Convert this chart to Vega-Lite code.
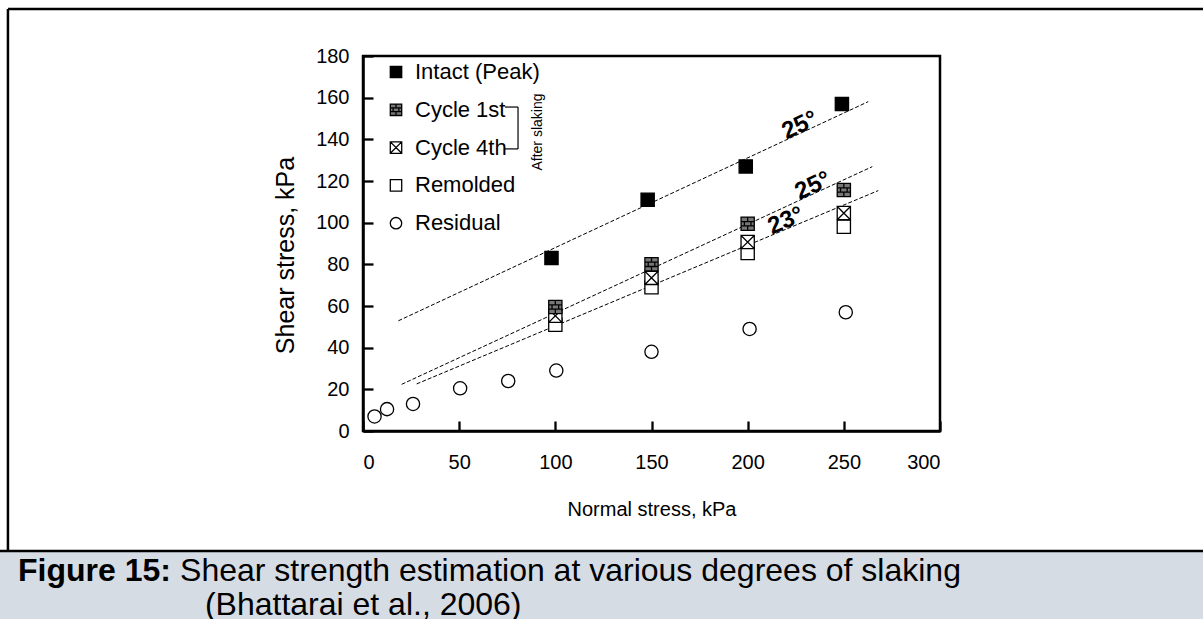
{
  "$schema": "https://vega.github.io/schema/vega-lite/v6.json",
  "width": 577,
  "height": 375,
  "autosize": {"type": "none"},
  "padding": {"left": 363, "top": 56, "right": 263, "bottom": 188},
  "background": "white",
  "config": {
    "font": "Liberation Sans",
    "view": {"stroke": "black", "strokeWidth": 2.5},
    "axis": {
      "grid": false,
      "domainColor": "black",
      "domainWidth": 2.5,
      "tickColor": "black",
      "tickWidth": 2.3,
      "tickSize": -10,
      "labelColor": "black",
      "labelFontSize": 20,
      "labelFont": "Liberation Sans",
      "titleColor": "black",
      "titleFont": "Liberation Sans",
      "titleFontWeight": "normal"
    },
    "legend": {
      "labelFontSize": 22,
      "labelFont": "Liberation Sans",
      "labelColor": "black",
      "symbolSize": 130,
      "symbolStrokeWidth": 1.3,
      "rowPadding": 15.8,
      "labelOffset": 8,
      "padding": 0,
      "symbolOpacity": 1
    }
  },
  "datasets": {
    "pts": [
      {"series": "Intact (Peak)", "x": 98, "y": 83},
      {"series": "Intact (Peak)", "x": 148, "y": 111},
      {"series": "Intact (Peak)", "x": 199, "y": 127},
      {"series": "Intact (Peak)", "x": 249, "y": 157},
      {"series": "Remolded", "x": 100, "y": 51},
      {"series": "Remolded", "x": 150, "y": 69},
      {"series": "Remolded", "x": 200, "y": 85.4},
      {"series": "Remolded", "x": 250, "y": 98},
      {"series": "Cycle 4th", "x": 100, "y": 55.3},
      {"series": "Cycle 4th", "x": 150, "y": 73.5},
      {"series": "Cycle 4th", "x": 200, "y": 90.7},
      {"series": "Cycle 4th", "x": 250, "y": 104.6},
      {"series": "Cycle 1st", "x": 100, "y": 59.5},
      {"series": "Cycle 1st", "x": 150, "y": 80},
      {"series": "Cycle 1st", "x": 200, "y": 99.5},
      {"series": "Cycle 1st", "x": 250, "y": 115.7},
      {"series": "Residual", "x": 6, "y": 7},
      {"series": "Residual", "x": 12.5, "y": 10.5},
      {"series": "Residual", "x": 26, "y": 13},
      {"series": "Residual", "x": 50.5, "y": 20.5},
      {"series": "Residual", "x": 75.5, "y": 24},
      {"series": "Residual", "x": 100.5, "y": 29},
      {"series": "Residual", "x": 150, "y": 38},
      {"series": "Residual", "x": 201, "y": 49},
      {"series": "Residual", "x": 251, "y": 57}
    ],
    "fits": [
      {"fit": "peak", "x": 18.4, "y": 52.9},
      {"fit": "peak", "x": 262.7, "y": 158.1},
      {"fit": "cycle", "x": 20.1, "y": 22.4},
      {"fit": "cycle", "x": 264.8, "y": 126.9},
      {"fit": "remolded", "x": 27.9, "y": 22.6},
      {"fit": "remolded", "x": 267.9, "y": 115.4}
    ],
    "angles": [
      {"label": "25°", "deg": 25, "x": 227.2, "y": 146.6},
      {"label": "25°", "deg": 25, "x": 234, "y": 117.6},
      {"label": "23°", "deg": 23, "x": 219.9, "y": 100.8}
    ],
    "frame": [
      {"x": -184.6, "x2": 480, "y": 202.6, "y2": 202.6},
      {"x": -184.6, "x2": -184.6, "y": 202.6, "y2": -57.6},
      {"x": -200, "x2": 480, "y": -57.6, "y2": -57.6}
    ],
    "captionbox": [
      {"x": -200, "x2": 480, "y": -57.6, "y2": -100}
    ],
    "bracket": [
      {"x": 73.8, "x2": 80.6, "y": 155.5, "y2": 155.5},
      {"x": 80.6, "x2": 80.6, "y": 155.5, "y2": 135.4},
      {"x": 73.8, "x2": 80.6, "y": 135.4, "y2": 135.4}
    ]
  },
  "encoding": {
    "x": {
      "field": "x",
      "type": "quantitative",
      "scale": {"domain": [0, 300], "nice": false, "zero": false},
      "axis": {
        "values": [0, 50, 100, 150, 200, 250, 300],
        "title": "Normal stress, kPa",
        "titleFontSize": 20,
        "labelPadding": 31,
        "titleX": 288.5,
        "titleY": 78,
        "titleBaseline": "middle",
        "titleAlign": "center"
      }
    },
    "y": {
      "field": "y",
      "type": "quantitative",
      "scale": {"domain": [0, 180], "nice": false, "zero": false},
      "axis": {
        "values": [0, 20, 40, 60, 80, 100, 120, 140, 160, 180],
        "title": "Shear stress, kPa",
        "titleFontSize": 25,
        "labelPadding": 24,
        "titleX": -78,
        "titleY": 199,
        "titleBaseline": "middle",
        "titleAlign": "center",
        "titleAngle": -90
      }
    }
  },
  "layer": [
    {
      "data": {"name": "captionbox"},
      "mark": {"type": "rect", "fill": "#d6dce4", "clip": false},
      "encoding": {"x2": {"field": "x2"}, "y2": {"field": "y2"}}
    },
    {
      "data": {"name": "frame"},
      "mark": {"type": "rule", "stroke": "black", "strokeWidth": 2.5, "clip": false},
      "encoding": {"x2": {"field": "x2"}, "y2": {"field": "y2"}}
    },
    {
      "data": {"values": [{"text": "Figure 15:", "x": -179.4, "y": -72.2}]},
      "mark": {"type": "text", "align": "left", "baseline": "alphabetic", "fontSize": 32, "fontWeight": "bold", "font": "Liberation Sans", "color": "black", "clip": false},
      "encoding": {"text": {"field": "text"}}
    },
    {
      "data": {"values": [
        {"text": "Shear strength estimation at various degrees of slaking", "x": -95.1, "y": -72.2},
        {"text": "(Bhattarai et al., 2006)", "x": -82.2, "y": -88.1}
      ]},
      "mark": {"type": "text", "align": "left", "baseline": "alphabetic", "fontSize": 32, "font": "Liberation Sans", "color": "black", "clip": false},
      "encoding": {"text": {"field": "text"}}
    },
    {
      "data": {"name": "fits"},
      "mark": {"type": "line", "stroke": "black", "strokeWidth": 1, "strokeDash": [4, 2]},
      "encoding": {"detail": {"field": "fit"}}
    },
    {
      "data": {"name": "pts"},
      "mark": {"type": "point", "filled": true, "strokeWidth": 1.3, "opacity": 1, "size": 175},
      "encoding": {
        "fill": {
          "field": "series",
          "type": "nominal",
          "scale": {
            "domain": ["Intact (Peak)", "Cycle 1st", "Cycle 4th", "Remolded", "Residual"],
            "range": ["black", "#777777", "white", "white", "white"]
          },
          "legend": {"orient": "none", "legendX": 22, "legendY": 5, "title": null}
        },
        "stroke": {
          "field": "series",
          "type": "nominal",
          "scale": {
            "domain": ["Intact (Peak)", "Cycle 1st", "Cycle 4th", "Remolded", "Residual"],
            "range": ["black", "black", "black", "black", "black"]
          },
          "legend": {"orient": "none", "legendX": 22, "legendY": 5, "title": null}
        },
        "shape": {
          "field": "series",
          "type": "nominal",
          "scale": {
            "domain": ["Intact (Peak)", "Cycle 1st", "Cycle 4th", "Remolded", "Residual"],
            "range": [
              "square",
              "M-1,-1H1V1H-1Z M-1,-0.33H1 M-1,0.33H1 M0,-1V-0.33 M-0.5,-0.33V0.33 M0.5,-0.33V0.33 M0,0.33V1",
              "M-1,-1H1V1H-1Z M-1,-1L1,1 M1,-1L-1,1",
              "square",
              "circle"
            ]
          },
          "legend": {"orient": "none", "legendX": 22, "legendY": 5, "title": null}
        }
      }
    },
    {
      "data": {"name": "angles"},
      "transform": [{"filter": "datum.deg == 25"}],
      "mark": {"type": "text", "fontSize": 24, "fontWeight": "bold", "angle": -25, "align": "center", "baseline": "middle", "color": "black"},
      "encoding": {"text": {"field": "label"}}
    },
    {
      "data": {"name": "angles"},
      "transform": [{"filter": "datum.deg == 23"}],
      "mark": {"type": "text", "fontSize": 24, "fontWeight": "bold", "angle": -23, "align": "center", "baseline": "middle", "color": "black"},
      "encoding": {"text": {"field": "label"}}
    },
    {
      "data": {"name": "bracket"},
      "mark": {"type": "rule", "stroke": "black", "strokeWidth": 1.2},
      "encoding": {"x2": {"field": "x2"}, "y2": {"field": "y2"}}
    },
    {
      "data": {"values": [{"text": "After slaking", "x": 91.0, "y": 143.5}]},
      "mark": {"type": "text", "fontSize": 14, "angle": 270, "align": "center", "baseline": "middle", "color": "black"},
      "encoding": {"text": {"field": "text"}}
    }
  ]
}
